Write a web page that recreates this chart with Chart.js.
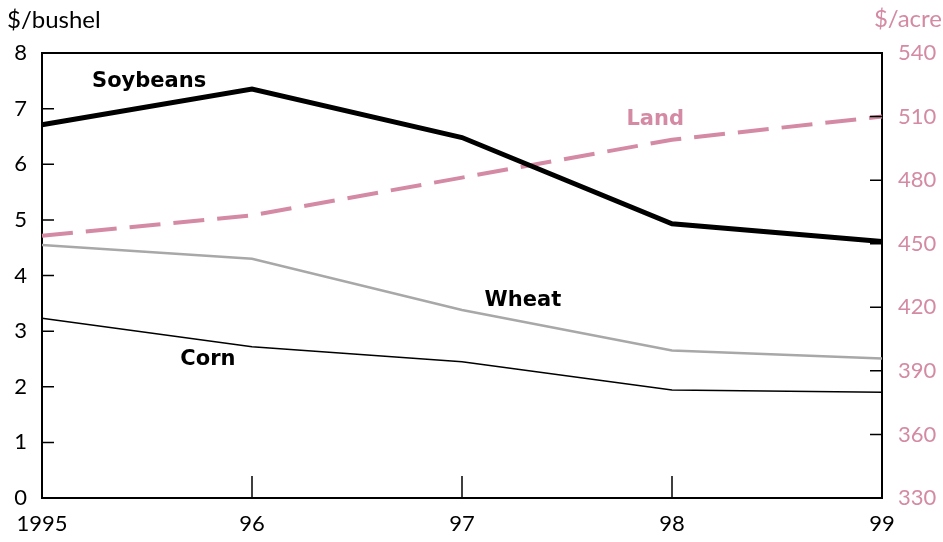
<!DOCTYPE html>
<html>
<head>
<meta charset="utf-8">
<script src="https://cdn.jsdelivr.net/npm/chart.js@4/dist/chart.umd.min.js"></script>
<style>
  html, body { margin: 0; padding: 0; background: #fff; }
  #wrap { width: 943px; height: 542px; }
</style>
</head>
<body>
<div id="wrap"><canvas id="myChart"></canvas></div>
<script>
var years = ["1995", "96", "97", "98", "99"];
var soybeans = [6.71, 7.35, 6.48, 4.93, 4.61];
var wheat = [4.55, 4.30, 3.38, 2.65, 2.51];
var corn = [3.23, 2.72, 2.45, 1.94, 1.90];
var land = [453.8, 463.4, 481.2, 499.1, 510];

var pink = "#d48aa4";
var font = "Lato, 'DejaVu Sans', sans-serif";
var labelFont = "'DejaVu Sans', sans-serif";

// series labels: [text, x index, y value, axis, colour]
var seriesLabels = [
  ["Soybeans", 0.51, 7.49, "y", "#000"],
  ["Wheat", 2.29, 3.55, "y", "#000"],
  ["Corn", 0.79, 2.49, "y", "#000"],
  ["Land", 2.92, 508.5, "y2", pink]
];

var extras = {
  id: "extras",
  afterDraw: function (chart) {
    var ctx = chart.ctx;
    var a = chart.chartArea;
    var x = chart.scales.x, y = chart.scales.y, y2 = chart.scales.y2;
    ctx.save();
    ctx.strokeStyle = "#000";
    ctx.lineWidth = 2;
    // top border
    ctx.beginPath();
    ctx.moveTo(a.left, a.top);
    ctx.lineTo(a.right, a.top);
    ctx.stroke();
    // inward tick marks
    ctx.lineWidth = 1.5;
    ctx.beginPath();
    for (var v = 1; v <= 8; v++) {
      var py = y.getPixelForValue(v);
      ctx.moveTo(a.left, py);
      ctx.lineTo(a.left + 12, py);
    }
    for (var w = 360; w <= 540; w += 30) {
      var py2 = y2.getPixelForValue(w);
      ctx.moveTo(a.right, py2);
      ctx.lineTo(a.right - 12, py2);
    }
    for (var i = 1; i < years.length - 1; i++) {
      var px = x.getPixelForValue(i);
      ctx.moveTo(px, a.bottom);
      ctx.lineTo(px, a.bottom - 22);
    }
    ctx.stroke();
    // unit titles
    ctx.font = "24px " + font;
    ctx.textBaseline = "middle";
    ctx.fillStyle = "#000";
    ctx.textAlign = "left";
    ctx.fillText("$/bushel", 7, 20);
    ctx.fillStyle = pink;
    ctx.textAlign = "right";
    ctx.fillText("$/acre", 942, 19);
    // series labels
    ctx.font = "bold 21px " + labelFont;
    ctx.textAlign = "center";
    seriesLabels.forEach(function (l) {
      ctx.fillStyle = l[4];
      ctx.fillText(l[0], x.getPixelForValue(l[1]), chart.scales[l[3]].getPixelForValue(l[2]));
    });
    ctx.restore();
  }
};

new Chart("myChart", {
  type: "line",
  data: {
    labels: years,
    datasets: [
      { data: soybeans, borderColor: "#000", borderWidth: 5, yAxisID: "y" },
      { data: wheat, borderColor: "#a8a8a8", borderWidth: 2.5, yAxisID: "y" },
      { data: corn, borderColor: "#000", borderWidth: 1.5, yAxisID: "y" },
      { data: land, borderColor: pink, borderWidth: 4, borderDash: [31, 13], yAxisID: "y2" }
    ]
  },
  options: {
    responsive: true,
    maintainAspectRatio: false,
    animation: false,
    layout: { padding: { top: 53, left: 0, right: 0, bottom: 0 } },
    elements: { point: { radius: 0 }, line: { tension: 0, borderCapStyle: "butt" } },
    plugins: { legend: { display: false }, tooltip: { enabled: false } },
    scales: {
      x: {
        offset: false,
        grid: { display: false, drawTicks: false },
        border: { display: true, color: "#000", width: 2 },
        ticks: { color: "#000", padding: 13, maxRotation: 0, autoSkip: false, font: { family: font, size: 22 } },
        afterFit: function (s) { s.height = 44; }
      },
      y: {
        position: "left",
        min: 0, max: 8,
        grid: { display: false, drawTicks: false },
        border: { display: true, color: "#000", width: 2 },
        ticks: { stepSize: 1, color: "#000", padding: 15, font: { family: font, size: 22 } },
        afterFit: function (s) { s.width = 42; }
      },
      y2: {
        position: "right",
        min: 330, max: 540,
        grid: { display: false, drawTicks: false },
        border: { display: true, color: "#000", width: 2 },
        ticks: { stepSize: 30, color: pink, padding: 16, font: { family: font, size: 22 } },
        afterFit: function (s) { s.width = 61; }
      }
    }
  },
  plugins: [extras]
});
</script>
</body>
</html>
